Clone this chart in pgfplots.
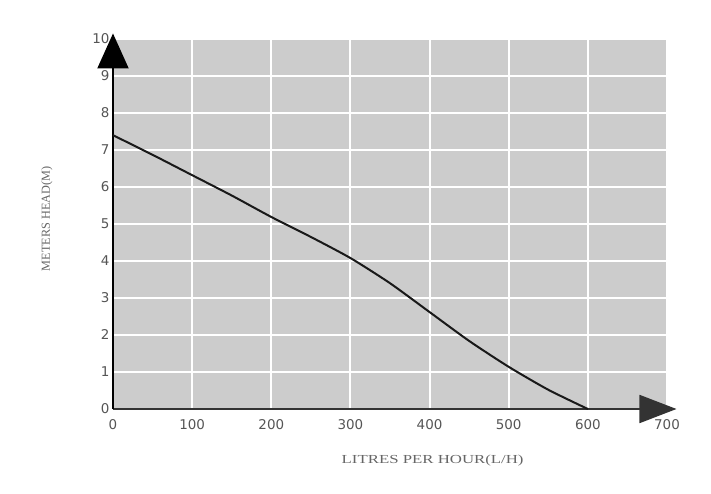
\documentclass[border=0pt]{standalone}
\usepackage{fontspec}
\setmainfont{Liberation Serif}
\newfontfamily\ticksans{DejaVu Sans}
\usepackage{graphicx}
\usepackage{pgfplots}
\pgfplotsset{compat=1.18}
\usetikzlibrary{arrows.meta}

\definecolor{plotbg}{HTML}{CCCCCC}
\definecolor{ticktext}{HTML}{555555}
\definecolor{labeltext}{HTML}{666666}

\begin{document}
\begin{tikzpicture}
\begin{axis}[
    scale only axis,
    width=554bp, height=370bp,
    xmin=0, xmax=700,
    ymin=0, ymax=10,
    xtick={0,100,...,700},
    ytick={0,1,...,10},
    major tick length=0pt,
    grid=major,
    major grid style={white, line width=2bp},
    axis background/.style={fill=plotbg},
    axis line style={draw=none},
    clip=false,
    tick label style={font=\ticksans\fontsize{13.5}{14}\selectfont, text=ticktext},
    /pgf/number format/assume math mode=true,
    xticklabel style={yshift=-7bp},
    xlabel={\scalebox{1.37}[1]{LITRES PER HOUR(L/H)}},
    ylabel={METERS HEAD(M)},
    label style={font=\fontsize{12.3}{13}\selectfont, text=labeltext},
    xlabel style={at={(axis description cs:0.577,0)}, anchor=center, yshift=-52bp},
    ylabel style={at={(axis description cs:0,0.514)}, anchor=center, yshift=66bp},
]
% axes with big arrow heads
\draw[draw=black!80, line width=1.8bp, -{Triangle[length=37bp,width=28bp]}]
    (axis cs:0,0) -- (axis cs:712,0);
\draw[black, line width=2bp, -{Triangle[length=35bp,width=31bp]}]
    (axis cs:0,0) -- (axis cs:0,10.15);
% pump curve
\addplot[black!90, line width=2bp, smooth, tension=0.4] coordinates {
    (0,7.40) (50,6.87) (100,6.32) (150,5.77) (200,5.19) (250,4.65)
    (300,4.08) (350,3.40) (400,2.62) (450,1.84) (500,1.14) (550,0.52) (600,0)
};
\end{axis}
\path[use as bounding box] (-113bp,-85bp) rectangle (598bp,409bp);
\end{tikzpicture}
\end{document}
